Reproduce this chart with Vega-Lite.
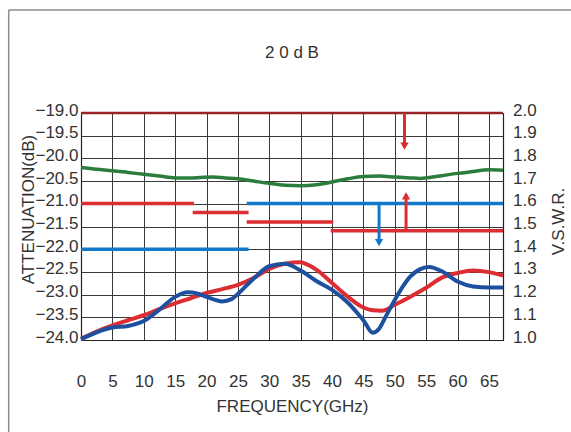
{
  "$schema": "https://vega.github.io/schema/vega-lite/v6.json",
  "width": 422,
  "height": 227,
  "autosize": {"type": "none"},
  "padding": {"left": 81, "top": 113, "right": 68, "bottom": 92},
  "background": "white",
  "title": {"text": "2 0 d B", "fontSize": 17, "font": "Liberation Sans", "fontWeight": "normal", "color": "#333333", "anchor": "middle", "frame": "group", "baseline": "alphabetic", "offset": -66},
  "config": {
    "font": "Liberation Sans",
    "view": {"stroke": "#222222", "strokeWidth": 1},
    "axis": {
      "labelFont": "Liberation Sans", "titleFont": "Liberation Sans",
      "labelFontSize": 17, "titleFontSize": 17,
      "labelColor": "#333333", "titleColor": "#333333", "titleFontWeight": "normal",
      "ticks": false, "domainColor": "#222222", "domainWidth": 1.2,
      "gridColor": "#3a3a3a", "gridOpacity": 1, "gridWidth": 1,
      "labelOverlap": false, "labelFlush": false
    }
  },
  "datasets": {
    "atten": [
      {"f": 0, "db": -20.20}, {"f": 2.5, "db": -20.24}, {"f": 5, "db": -20.27}, {"f": 7.5, "db": -20.31},
      {"f": 10, "db": -20.35}, {"f": 12.5, "db": -20.39}, {"f": 15, "db": -20.43}, {"f": 17.5, "db": -20.43},
      {"f": 19, "db": -20.42}, {"f": 21, "db": -20.41}, {"f": 23, "db": -20.43}, {"f": 25, "db": -20.45},
      {"f": 27.5, "db": -20.50}, {"f": 30, "db": -20.55}, {"f": 32.5, "db": -20.59}, {"f": 35, "db": -20.60},
      {"f": 37.5, "db": -20.58}, {"f": 40, "db": -20.52}, {"f": 42.5, "db": -20.45}, {"f": 45, "db": -20.40},
      {"f": 47.5, "db": -20.39}, {"f": 50, "db": -20.41}, {"f": 52.5, "db": -20.43}, {"f": 54, "db": -20.44},
      {"f": 55.5, "db": -20.42}, {"f": 57.5, "db": -20.38}, {"f": 60, "db": -20.33}, {"f": 62.5, "db": -20.29},
      {"f": 65, "db": -20.25}, {"f": 67.25, "db": -20.26}
    ],
    "vswrRed": [
      {"f": 0, "v": 1.005}, {"f": 2.5, "v": 1.037}, {"f": 5, "v": 1.064}, {"f": 7.5, "v": 1.087},
      {"f": 10, "v": 1.109}, {"f": 12.5, "v": 1.136}, {"f": 15, "v": 1.161}, {"f": 17.5, "v": 1.184},
      {"f": 20, "v": 1.207}, {"f": 22.5, "v": 1.224}, {"f": 25, "v": 1.243}, {"f": 27.5, "v": 1.273},
      {"f": 30, "v": 1.313}, {"f": 32.5, "v": 1.336}, {"f": 35, "v": 1.342}, {"f": 36, "v": 1.333},
      {"f": 37.5, "v": 1.31}, {"f": 40, "v": 1.251}, {"f": 42.5, "v": 1.191}, {"f": 45, "v": 1.143},
      {"f": 46.5, "v": 1.131}, {"f": 48, "v": 1.129}, {"f": 50, "v": 1.155}, {"f": 52.5, "v": 1.191},
      {"f": 55, "v": 1.23}, {"f": 57.5, "v": 1.275}, {"f": 60, "v": 1.295}, {"f": 62.5, "v": 1.306},
      {"f": 65, "v": 1.299}, {"f": 67.25, "v": 1.284}
    ],
    "vswrBlue": [
      {"f": 0, "v": 1.004}, {"f": 2.5, "v": 1.034}, {"f": 5, "v": 1.055}, {"f": 7.5, "v": 1.062},
      {"f": 10, "v": 1.084}, {"f": 12.5, "v": 1.134}, {"f": 15, "v": 1.19}, {"f": 17, "v": 1.21},
      {"f": 18.5, "v": 1.205}, {"f": 20, "v": 1.19}, {"f": 22.5, "v": 1.17}, {"f": 24, "v": 1.18},
      {"f": 25, "v": 1.203}, {"f": 27.5, "v": 1.27}, {"f": 30, "v": 1.325}, {"f": 32.5, "v": 1.336},
      {"f": 35, "v": 1.306}, {"f": 37.5, "v": 1.26}, {"f": 40, "v": 1.221}, {"f": 42.5, "v": 1.165},
      {"f": 44, "v": 1.12}, {"f": 45, "v": 1.087}, {"f": 46.5, "v": 1.032}, {"f": 47.5, "v": 1.05},
      {"f": 48.5, "v": 1.1}, {"f": 50, "v": 1.176}, {"f": 51.3, "v": 1.236}, {"f": 52.5, "v": 1.28},
      {"f": 53.9, "v": 1.31}, {"f": 55.5, "v": 1.322}, {"f": 57.5, "v": 1.303}, {"f": 60, "v": 1.258},
      {"f": 62.5, "v": 1.236}, {"f": 65, "v": 1.231}, {"f": 67.25, "v": 1.231}
    ],
    "spec": [
      {"grp": "red", "x0": 0, "x1": 18.0, "v": 1.601},
      {"grp": "red", "x0": 17.8, "x1": 26.7, "v": 1.562},
      {"grp": "red", "x0": 26.4, "x1": 40.2, "v": 1.52},
      {"grp": "red", "x0": 39.8, "x1": 67.25, "v": 1.481},
      {"grp": "blue", "x0": 26.4, "x1": 67.25, "v": 1.601},
      {"grp": "blue", "x0": 0, "x1": 26.7, "v": 1.40}
    ],
    "limit": [{"v": 2.0}],
    "arrows": [
      {"grp": "red", "x": 51.55, "from": 2.0, "to": 1.85, "head": 1.854, "dir": "down"},
      {"grp": "red", "x": 51.8, "from": 1.481, "to": 1.64, "head": 1.635, "dir": "up"},
      {"grp": "blue", "x": 47.5, "from": 1.601, "to": 1.43, "head": 1.429, "dir": "down"}
    ]
  },
  "resolve": {"scale": {"y": "independent"}},
  "layer": [
    {
      "layer": [
        {
          "data": {"name": "atten"},
          "mark": {"type": "line", "color": "#2a7d3c", "strokeWidth": 3.5, "interpolate": "monotone"},
          "encoding": {
            "x": {"field": "f", "type": "quantitative", "scale": {"domain": [0, 67.25], "nice": false, "zero": false},
                  "axis": {"values": [0, 5, 10, 15, 20, 25, 30, 35, 40, 45, 50, 55, 60, 65], "grid": true, "labelPadding": 33, "labelBaseline": "top",
                           "title": "FREQUENCY(GHz)", "titleBaseline": "top", "titleY": 58}},
            "y": {"field": "db", "type": "quantitative", "scale": {"domain": [-24, -19], "nice": false, "zero": false},
                  "axis": {"orient": "left", "values": [-24, -23.5, -23, -22.5, -22, -21.5, -21, -20.5, -20, -19.5, -19], "format": ".1f", "grid": true,
                           "labelPadding": 3, "labelOffset": -3,
                           "title": "ATTENUATION(dB)", "titleAngle": 270, "titleBaseline": "alphabetic", "titleX": -47.7, "titleY": 96}}
          }
        },
        {
          "data": {"values": [{}]},
          "mark": {"type": "rule", "color": "#8c8c8c", "strokeWidth": 1.5},
          "encoding": {
            "x": {"datum": -11.52, "type": "quantitative",
                  "axis": {"values": [0, 5, 10, 15, 20, 25, 30, 35, 40, 45, 50, 55, 60, 65], "grid": true, "labelPadding": 33, "labelBaseline": "top",
                           "title": "FREQUENCY(GHz)", "titleBaseline": "top", "titleY": 58}},
            "y": {"datum": -16.73, "type": "quantitative",
                  "axis": {"orient": "left", "values": [-24, -23.5, -23, -22.5, -22, -21.5, -21, -20.5, -20, -19.5, -19], "format": ".1f", "grid": true,
                           "labelPadding": 3, "labelOffset": -3,
                           "title": "ATTENUATION(dB)", "titleAngle": 270, "titleBaseline": "alphabetic", "titleX": -47.7, "titleY": 96}},
            "y2": {"datum": -26.3}
          }
        },
        {
          "data": {"values": [{}]},
          "mark": {"type": "rule", "color": "#8c8c8c", "strokeWidth": 1.5},
          "encoding": {
            "x": {"datum": -11.52, "type": "quantitative",
                  "axis": {"values": [0, 5, 10, 15, 20, 25, 30, 35, 40, 45, 50, 55, 60, 65], "grid": true, "labelPadding": 33, "labelBaseline": "top",
                           "title": "FREQUENCY(GHz)", "titleBaseline": "top", "titleY": 58}},
            "x2": {"datum": 80},
            "y": {"datum": -16.73, "type": "quantitative",
                  "axis": {"orient": "left", "values": [-24, -23.5, -23, -22.5, -22, -21.5, -21, -20.5, -20, -19.5, -19], "format": ".1f", "grid": true,
                           "labelPadding": 3, "labelOffset": -3,
                           "title": "ATTENUATION(dB)", "titleAngle": 270, "titleBaseline": "alphabetic", "titleX": -47.7, "titleY": 96}}
          }
        }
      ]
    },
    {
      "encoding": {
        "x": {"type": "quantitative",
              "axis": {"values": [0, 5, 10, 15, 20, 25, 30, 35, 40, 45, 50, 55, 60, 65], "grid": true, "labelPadding": 33, "labelBaseline": "top",
                       "title": "FREQUENCY(GHz)", "titleBaseline": "top", "titleY": 58}},
        "y": {"type": "quantitative", "scale": {"domain": [1, 2], "nice": false, "zero": false},
              "axis": {"orient": "right", "values": [1, 1.1, 1.2, 1.3, 1.4, 1.5, 1.6, 1.7, 1.8, 1.9, 2], "format": ".1f", "grid": false,
                       "labelPadding": 9.5, "labelOffset": -3,
                       "title": "V.S.W.R.", "titleAngle": 270, "titleBaseline": "alphabetic", "titleX": 60.3, "titleY": 108}}
      },
      "layer": [
        {
          "data": {"name": "spec"},
          "transform": [{"filter": "datum.grp === 'red'"}],
          "mark": {"type": "rule", "color": "#dc2d32", "strokeWidth": 3.5},
          "encoding": {"x": {"field": "x0"}, "x2": {"field": "x1"}, "y": {"field": "v"}}
        },
        {
          "data": {"name": "spec"},
          "transform": [{"filter": "datum.grp === 'blue'"}],
          "mark": {"type": "rule", "color": "#1478c8", "strokeWidth": 3.5},
          "encoding": {"x": {"field": "x0"}, "x2": {"field": "x1"}, "y": {"field": "v"}}
        },
        {
          "data": {"name": "limit"},
          "mark": {"type": "rule", "color": "#962424", "strokeWidth": 2.5},
          "encoding": {"x": {"value": 0}, "x2": {"value": 422}, "y": {"field": "v"}}
        },
        {
          "data": {"name": "arrows"},
          "transform": [{"filter": "datum.grp === 'red'"}],
          "mark": {"type": "rule", "color": "#dc2d32", "strokeWidth": 3},
          "encoding": {"x": {"field": "x"}, "y": {"field": "from"}, "y2": {"field": "to"}}
        },
        {
          "data": {"name": "arrows"},
          "transform": [{"filter": "datum.grp === 'red'"}],
          "mark": {"type": "point", "filled": true, "color": "#dc2d32", "opacity": 1, "size": 70},
          "encoding": {
            "x": {"field": "x"}, "y": {"field": "head"},
            "shape": {"field": "dir", "type": "nominal", "scale": {"domain": ["down", "up"], "range": ["triangle-down", "triangle-up"]}, "legend": null}
          }
        },
        {
          "data": {"name": "arrows"},
          "transform": [{"filter": "datum.grp === 'blue'"}],
          "mark": {"type": "rule", "color": "#1478c8", "strokeWidth": 3},
          "encoding": {"x": {"field": "x"}, "y": {"field": "from"}, "y2": {"field": "to"}}
        },
        {
          "data": {"name": "arrows"},
          "transform": [{"filter": "datum.grp === 'blue'"}],
          "mark": {"type": "point", "filled": true, "color": "#1478c8", "opacity": 1, "size": 70},
          "encoding": {
            "x": {"field": "x"}, "y": {"field": "head"},
            "shape": {"field": "dir", "type": "nominal", "scale": {"domain": ["down", "up"], "range": ["triangle-down", "triangle-up"]}, "legend": null}
          }
        },
        {
          "data": {"name": "vswrRed"},
          "mark": {"type": "line", "color": "#dc2d32", "strokeWidth": 4, "interpolate": "monotone"},
          "encoding": {"x": {"field": "f"}, "y": {"field": "v"}}
        },
        {
          "data": {"name": "vswrBlue"},
          "mark": {"type": "line", "color": "#1e50a0", "strokeWidth": 4, "interpolate": "monotone"},
          "encoding": {"x": {"field": "f"}, "y": {"field": "v"}}
        }
      ]
    }
  ]
}
